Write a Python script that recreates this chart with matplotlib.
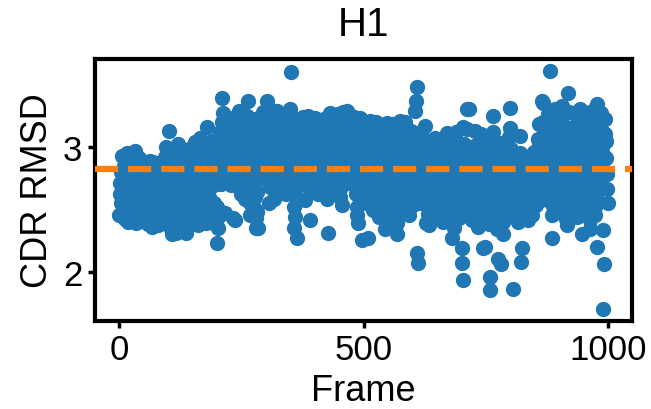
import numpy as np
import matplotlib
matplotlib.use("Agg")
import matplotlib.pyplot as plt

plt.rcParams['font.family'] = ['Liberation Sans', 'DejaVu Sans']

# CDR RMSD per frame (frames 0..999)
rmsd = [
    2.45, 2.62, 2.71, 2.55, 2.80, 2.93, 2.68, 2.49, 2.58, 2.77, 2.85, 2.60, 2.42, 2.53, 2.72, 2.95, 2.66, 2.51, 2.40, 2.63, 2.88, 2.74, 2.57, 2.47, 2.69,
    2.82, 2.90, 2.61, 2.44, 2.56, 2.73, 2.97, 2.79, 2.52, 2.39, 2.65, 2.84, 2.70, 2.48, 2.59, 2.76, 2.91, 2.64, 2.43, 2.54, 2.67, 2.81, 2.58, 2.46, 2.72,
    2.62, 2.50, 2.41, 2.57, 2.74, 2.86, 2.66, 2.53, 2.38, 2.47, 2.60, 2.78, 2.89, 2.69, 2.55, 2.44, 2.36, 2.52, 2.71, 2.88, 2.75, 2.58, 2.49, 2.63, 2.80,
    2.68, 2.54, 2.42, 2.37, 2.51, 2.65, 2.79, 2.87, 2.70, 2.56, 2.45, 2.59, 2.73, 2.84, 2.62, 2.48, 2.40, 2.55, 2.77, 2.92, 3.00, 2.82, 2.64, 2.50, 2.58,
    2.74, 2.96, 3.13, 2.90, 2.67, 2.46, 2.34, 2.52, 2.30, 2.57, 2.71, 2.85, 2.63, 2.49, 2.38, 2.31, 2.44, 2.61, 2.76, 2.94, 3.02, 2.83, 2.66, 2.53, 2.42,
    2.56, 2.70, 2.88, 2.97, 2.79, 2.60, 2.47, 2.35, 2.43, 2.58, 2.73, 2.31, 2.50, 2.66, 2.81, 2.92, 2.75, 2.59, 2.45, 2.54, 2.69, 2.86, 2.99, 2.84, 2.64,
    2.51, 2.40, 2.55, 2.72, 2.89, 3.04, 2.93, 2.77, 2.61, 2.48, 2.37, 2.52, 2.68, 2.83, 3.07, 2.95, 2.80, 2.63, 2.50, 2.44, 2.57, 2.74, 2.90, 3.01, 2.86,
    2.70, 2.58, 2.46, 2.39, 2.62, 3.16, 2.98, 2.84, 2.71, 2.60, 2.49, 2.42, 2.53, 2.76, 2.92, 3.05, 2.88, 2.73, 2.69, 2.55, 2.47, 2.38, 2.72, 2.90, 2.23,
    2.52, 2.35, 2.44, 2.73, 2.95, 3.12, 2.99, 2.82, 2.70, 3.39, 3.20, 3.27, 3.08, 2.91, 2.77, 2.47, 2.86, 3.03, 3.15, 2.96, 2.80, 2.71, 2.92, 3.10, 3.23,
    3.18, 3.00, 2.84, 2.75, 2.69, 2.88, 3.06, 2.43, 2.79, 2.94, 2.70, 2.41, 2.83, 3.02, 3.14, 2.97, 2.73, 2.85, 3.09, 3.21, 3.29, 3.11, 2.90, 2.78, 2.62,
    2.76, 2.93, 3.07, 3.19, 3.02, 2.86, 2.71, 2.58, 2.66, 2.89, 3.13, 3.25, 3.37, 3.16, 2.98, 2.81, 2.69, 2.55, 2.45, 2.62, 2.80, 2.95, 3.10, 3.22, 3.05,
    2.87, 2.72, 2.60, 2.50, 2.43, 2.35, 2.48, 2.64, 2.35, 2.78, 2.96, 3.11, 3.24, 3.08, 2.92, 2.83, 2.99, 3.17, 3.28, 3.14, 2.97, 2.85, 2.74, 2.88, 3.03,
    3.20, 3.37, 3.21, 3.06, 2.90, 2.76, 2.55, 2.68, 2.84, 3.01, 3.15, 3.26, 3.12, 2.95, 2.79, 2.67, 2.58, 2.71, 2.87, 3.04, 3.18, 3.29, 3.29, 3.09, 2.93,
    2.82, 2.96, 3.13, 3.23, 3.07, 2.91, 2.77, 2.64, 2.73, 2.89, 3.05, 3.19, 3.02, 2.86, 2.70, 2.62, 2.80, 2.98, 3.16, 3.25, 3.11, 2.94, 2.83, 3.30, 3.14,
    2.99, 2.85, 3.60, 3.08, 2.92, 2.78, 2.66, 2.52, 2.35, 2.44, 2.61, 2.80, 2.97, 2.27, 2.73, 2.88, 3.04, 3.18, 3.22, 3.06, 2.90, 2.76, 2.83, 3.00, 3.15,
    3.24, 3.09, 2.94, 2.81, 2.69, 2.57, 2.73, 2.89, 3.05, 3.17, 3.25, 3.12, 2.98, 2.84, 2.41, 2.66, 2.79, 2.95, 3.10, 3.21, 3.07, 2.91, 2.77, 2.86, 3.02,
    3.16, 3.23, 3.08, 2.93, 2.80, 2.70, 2.62, 2.75, 2.90, 3.06, 3.19, 3.14, 2.99, 2.85, 2.72, 2.64, 2.78, 2.94, 3.11, 3.22, 3.13, 2.97, 2.82, 2.67, 2.73,
    2.58, 2.31, 2.87, 3.03, 3.18, 3.27, 3.15, 3.00, 2.86, 2.74, 2.63, 2.79, 2.95, 3.12, 3.24, 3.10, 2.96, 2.83, 2.71, 2.84, 3.01, 3.17, 3.26, 3.08, 2.92,
    2.78, 2.66, 2.60, 2.72, 2.89, 2.53, 3.05, 3.20, 3.28, 3.14, 2.98, 2.85, 2.75, 2.90, 3.07, 3.29, 3.19, 3.03, 2.88, 2.76, 2.91, 3.09, 3.22, 3.11, 2.95,
    2.81, 2.70, 2.86, 3.00, 3.16, 3.24, 3.10, 2.94, 2.82, 2.72, 2.62, 2.52, 2.45, 2.39, 2.68, 2.84, 3.01, 3.23, 3.13, 2.97, 2.83, 2.74, 2.25, 2.66, 2.80,
    2.93, 3.08, 3.19, 3.05, 2.89, 2.76, 2.65, 2.55, 2.27, 2.71, 2.87, 3.02, 3.17, 3.21, 3.06, 2.91, 2.79, 2.68, 2.58, 2.49, 2.63, 2.78, 2.94, 3.10, 3.20,
    3.07, 2.92, 2.80, 2.70, 2.61, 2.52, 2.44, 2.57, 2.73, 2.88, 3.03, 3.16, 3.02, 2.86, 2.74, 2.64, 2.55, 2.47, 2.34, 2.60, 2.77, 2.93, 3.09, 3.19, 3.04,
    2.89, 2.77, 2.67, 2.58, 2.50, 2.42, 2.56, 2.71, 2.87, 3.04, 3.18, 3.08, 2.93, 2.81, 2.69, 2.59, 2.48, 2.39, 2.30, 2.53, 2.68, 2.84, 3.00, 3.14, 3.21,
    3.06, 2.90, 2.78, 2.66, 2.57, 2.49, 2.63, 2.79, 2.95, 3.11, 3.20, 3.05, 2.91, 2.80, 2.70, 2.60, 2.51, 2.45, 2.65, 2.82, 2.98, 3.13, 3.01, 2.86, 2.74,
    2.62, 2.53, 2.71, 2.88, 3.03, 3.29, 3.37, 2.96, 2.15, 3.48, 2.07, 2.84, 2.72, 2.61, 2.55, 2.68, 2.83, 2.99, 3.12, 3.02, 2.87, 2.76, 2.64, 2.57, 2.70,
    3.17, 2.85, 2.98, 2.39, 2.77, 2.63, 2.54, 2.46, 2.37, 2.58, 2.73, 2.89, 3.05, 2.94, 2.80, 2.67, 2.56, 2.48, 2.61, 2.76, 2.92, 3.07, 2.97, 2.82, 2.69,
    2.59, 2.50, 2.43, 2.62, 2.78, 2.93, 3.04, 2.90, 2.75, 2.64, 2.55, 2.47, 2.40, 2.58, 2.74, 2.88, 3.01, 2.87, 2.73, 2.63, 3.11, 2.52, 2.44, 2.66, 2.81,
    2.95, 3.08, 2.92, 2.79, 2.68, 2.27, 2.59, 2.49, 2.42, 2.35, 2.57, 2.71, 2.86, 3.00, 3.12, 2.98, 2.84, 2.72, 2.61, 2.51, 2.43, 2.55, 2.70, 2.85, 2.97,
    2.19, 2.07, 1.93, 3.16, 3.02, 2.88, 2.76, 2.65, 2.54, 2.46, 2.62, 3.30, 3.14, 2.99, 2.85, 2.73, 3.30, 2.91, 2.80, 2.69, 2.58, 2.50, 2.41, 2.56, 2.71,
    2.86, 3.01, 3.13, 2.97, 2.83, 2.72, 2.61, 2.52, 2.44, 2.36, 2.53, 2.68, 2.84, 2.99, 3.10, 2.94, 2.81, 2.70, 2.60, 2.19, 2.49, 2.41, 2.20, 2.58, 2.74,
    2.90, 3.06, 2.93, 2.79, 2.67, 2.57, 2.47, 2.38, 1.96, 1.85, 2.55, 2.70, 2.85, 3.01, 3.25, 3.12, 2.96, 2.82, 2.71, 2.62, 2.52, 2.43, 2.34, 2.59, 2.75,
    2.10, 2.89, 3.03, 2.91, 2.43, 2.06, 2.68, 2.58, 2.48, 2.30, 2.40, 2.55, 2.72, 2.87, 3.02, 2.94, 2.80, 2.69, 2.59, 2.50, 2.63, 2.78, 2.93, 3.08, 3.31,
    3.15, 2.98, 2.84, 2.72, 2.62, 1.86, 2.53, 2.45, 2.67, 2.81, 2.92, 2.77, 2.64, 2.55, 2.47, 2.40, 2.57, 2.71, 2.86, 2.95, 3.09, 2.08, 2.82, 2.69, 2.19,
    2.60, 2.51, 2.44, 2.65, 2.79, 2.91, 2.83, 2.70, 2.58, 2.49, 2.41, 2.54, 2.68, 2.81, 2.93, 2.86, 2.73, 2.62, 2.52, 2.45, 2.59, 2.74, 2.88, 2.96, 2.84,
    2.96, 2.71, 2.60, 2.53, 2.66, 2.80, 2.94, 3.06, 3.18, 3.04, 2.89, 2.76, 2.65, 2.57, 2.70, 3.37, 3.35, 3.20, 3.08, 2.93, 2.79, 2.68, 2.58, 2.73, 2.87,
    3.02, 3.15, 3.26, 3.12, 2.98, 2.84, 3.61, 2.74, 2.63, 2.54, 2.45, 2.27, 2.61, 2.78, 2.95, 3.09, 3.22, 3.30, 3.17, 3.03, 2.90, 2.77, 2.66, 2.56, 2.48,
    2.64, 2.81, 2.97, 3.13, 3.25, 3.33, 3.19, 3.05, 2.91, 2.79, 2.69, 2.59, 2.50, 2.42, 2.58, 2.75, 2.37, 3.07, 3.43, 3.28, 3.14, 3.00, 2.86, 2.74, 2.63,
    2.54, 2.68, 2.83, 2.99, 3.16, 3.27, 3.12, 2.97, 2.85, 2.73, 2.62, 2.52, 2.44, 2.71, 2.90, 3.06, 3.20, 3.30, 3.15, 3.01, 2.88, 2.76, 2.30, 2.65, 2.55,
    2.47, 2.62, 2.79, 2.95, 3.11, 3.23, 3.09, 2.93, 2.80, 2.68, 2.58, 2.49, 2.41, 2.34, 2.57, 3.02, 3.18, 3.29, 3.13, 2.99, 2.86, 2.72, 2.61, 2.52, 2.45,
    2.60, 2.76, 2.20, 3.34, 3.21, 3.07, 2.94, 2.81, 2.70, 2.67, 3.27, 3.14, 3.00, 2.87, 1.70, 2.33, 2.06, 2.93, 3.10, 3.22, 3.05, 2.91, 2.78, 2.66, 2.55,
]
frames = np.arange(len(rmsd))
mean_rmsd = 2.82

fig = plt.figure(figsize=(6.51, 4.1), dpi=100)
ax = fig.add_axes([0.146, 0.215, 0.825, 0.639])

ax.scatter(frames, rmsd, s=100, color='#1f77b4', zorder=2)
ax.axhline(mean_rmsd, color='#ff7f0e', linestyle='--', linewidth=4.5, zorder=3)

ax.set_title('H1', fontsize=29, pad=17)
ax.set_xlabel('Frame', fontsize=26, labelpad=5)
ax.set_ylabel('CDR RMSD', fontsize=26, labelpad=6)
ax.set_xticks([0, 500, 1000])
ax.set_yticks([2, 3])
ax.tick_params(labelsize=25, width=2.5, length=5, pad=4)
for sp in ax.spines.values():
    sp.set_linewidth(3)

fig.savefig('out.png', dpi=100)
